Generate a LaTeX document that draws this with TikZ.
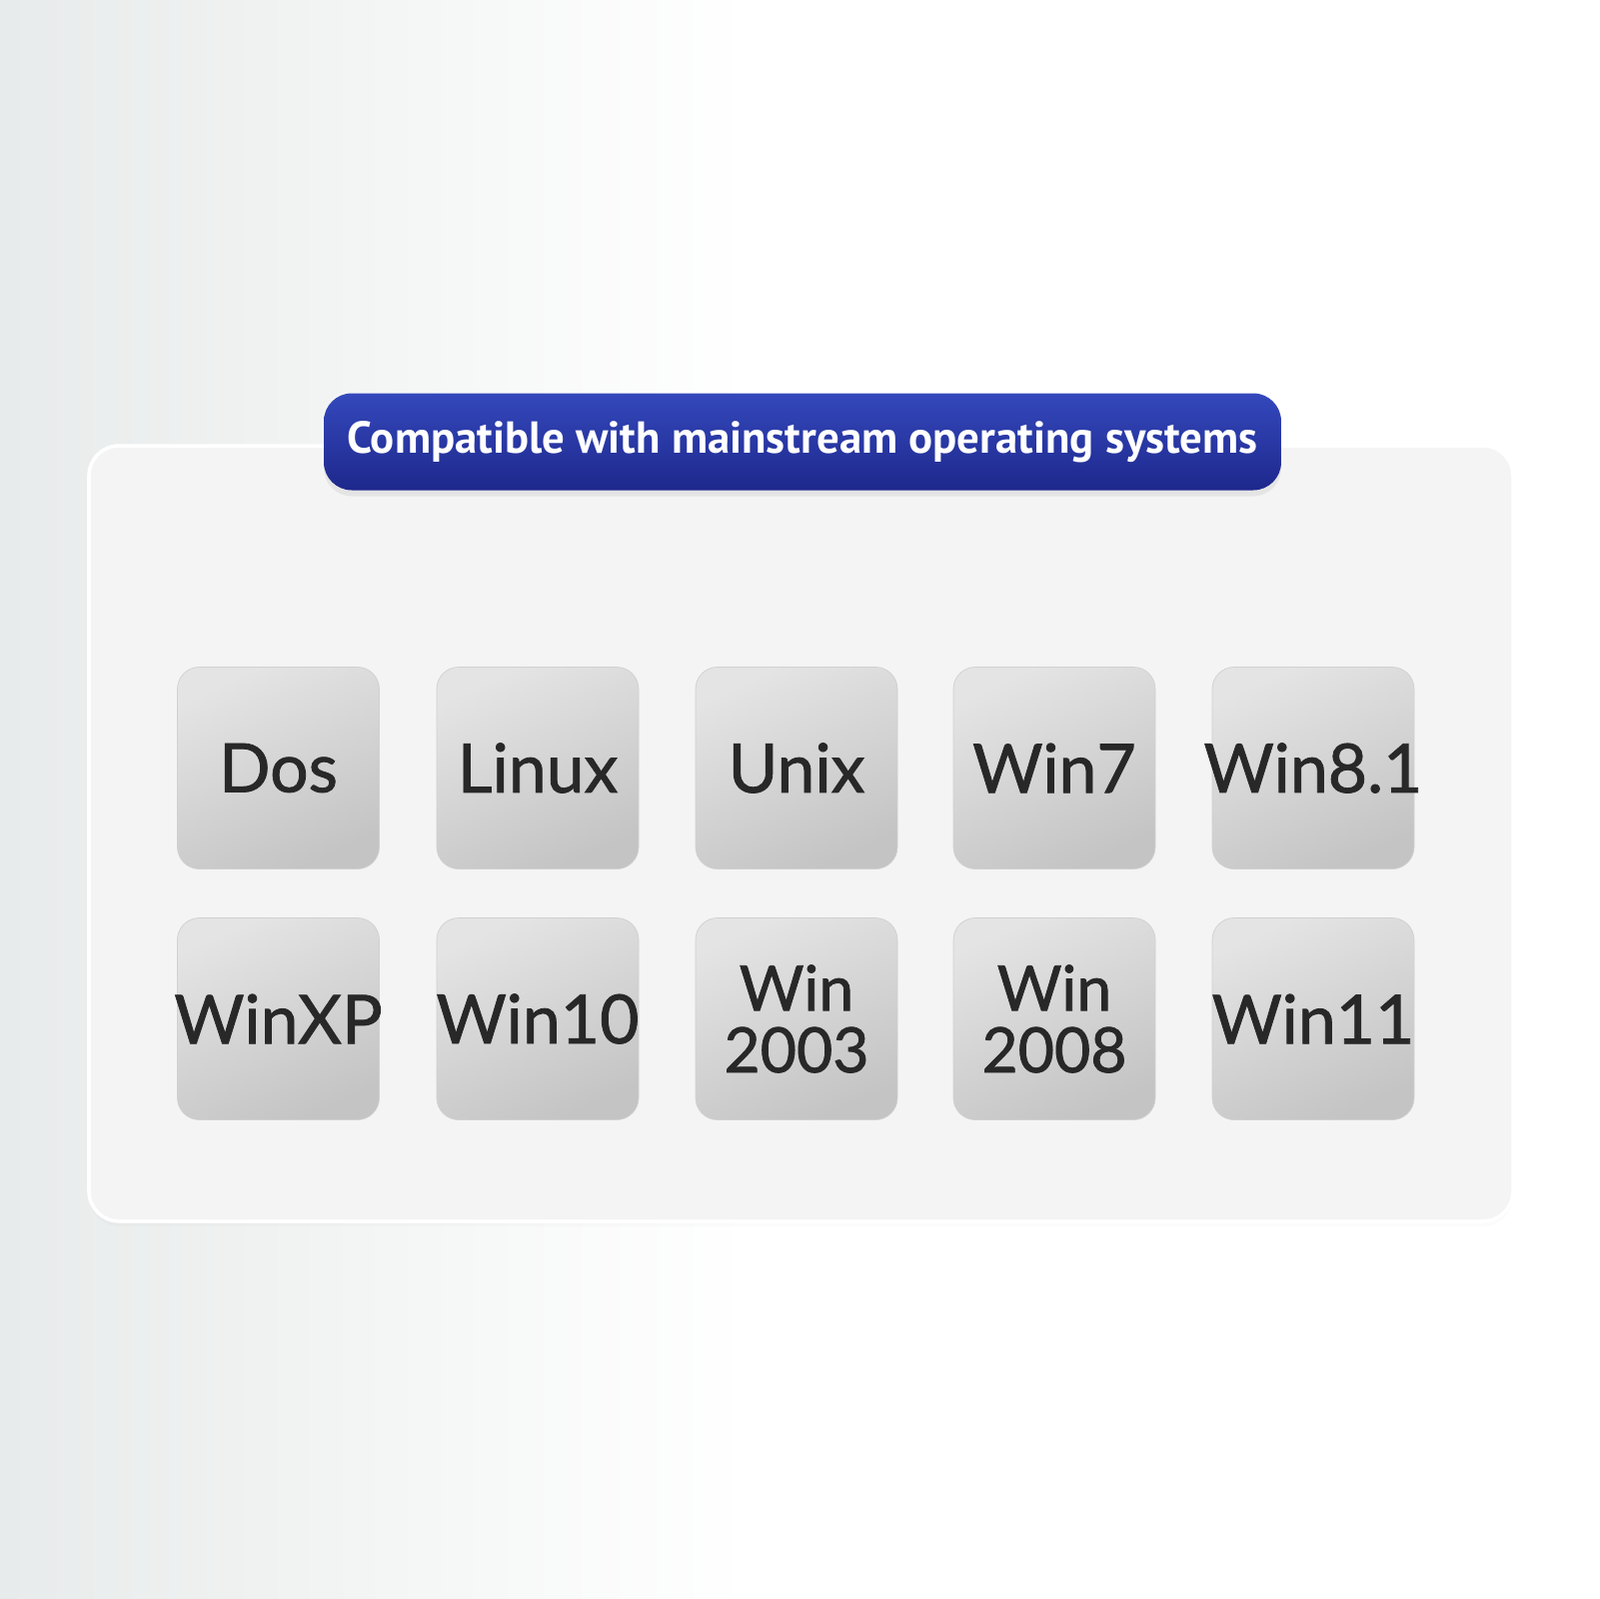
\documentclass[tikz,border=0pt]{standalone}
\usepackage{fontspec}
\setmainfont{Lato}
\newfontfamily\osfont[FakeBold=1.2]{Lato}
\newfontfamily\titlefont{PT Sans}
\usetikzlibrary{shadows}
\definecolor{bgside}{RGB}{232,235,235}
\definecolor{panelfill}{RGB}{244,244,244}
\definecolor{tiletop}{RGB}{228,228,228}
\definecolor{tilebot}{RGB}{196,196,196}
\definecolor{pilltop}{RGB}{52,72,188}
\definecolor{pillbot}{RGB}{30,40,140}
\definecolor{oslabel}{RGB}{40,40,40}
\newcommand{\osname}[1]{\makebox[0pt]{#1}}
\tikzset{
  osbox/.style={rounded corners=2.2mm, minimum width=20.2mm, minimum height=20.2mm,
    inner sep=0pt, top color=tiletop, bottom color=tilebot, shading angle=25,
    draw=tilebot!80!white, line width=0.2pt,
    font=\osfont\fontsize{19.3}{18}\selectfont, text=oslabel, align=center},
  twoline/.style={font=\osfont\fontsize{17.8}{17.6}\selectfont},
}
\begin{document}
\begin{tikzpicture}[x=0.1mm, y=-0.1mm]
\useasboundingbox (0,0) rectangle (1600,1600);
\fill[white] (0,0) rectangle (1600,1600);
\shade[left color=bgside, right color=white] (0,0) rectangle (750,1600);

\draw[rounded corners=3mm, fill=panelfill, draw=white, line width=1pt,
  drop shadow={opacity=0.03, shadow xshift=0pt, shadow yshift=-0.5mm}]
  (89,446) rectangle (1514,1222);
\node (panel) at (801.5,834) {};

\node (title) at (803,442) [rounded corners=2.8mm, minimum width=95.8mm, minimum height=9.7mm,
  top color=pilltop, bottom color=pillbot, text=white, inner sep=0pt,
  drop shadow={opacity=0.12, shadow xshift=0pt, shadow yshift=-0.6mm},
  font=\titlefont\bfseries\fontsize{12.75}{14}\selectfont]
  {Compatible with mainstream operating systems};

\node[osbox] (dos)   at (278.5,768.5) {\osname{Dos}};
\node[osbox] (linux) at (538,768.5)   {\osname{Linux}};
\node[osbox] (unix)  at (797,768.5)   {\osname{Unix}};
\node[osbox] (win7)  at (1055,768.5)  {\osname{Win7}};
\node[osbox] (win81) at (1314,768.5)  {\osname{Win8.1}};
% second row
\node[osbox] (winxp) at (278.5,1019.5) {\osname{WinXP}};
\node[osbox] (win10) at (538,1019.5)   {\osname{Win10}};
\node[osbox,twoline] (win03) at (797,1019.5) {Win\\2003};
\node[osbox,twoline] (win08) at (1055,1019.5) {Win\\2008};
\node[osbox] (win11) at (1314,1019.5)  {\osname{Win11}};
\end{tikzpicture}
\end{document}
